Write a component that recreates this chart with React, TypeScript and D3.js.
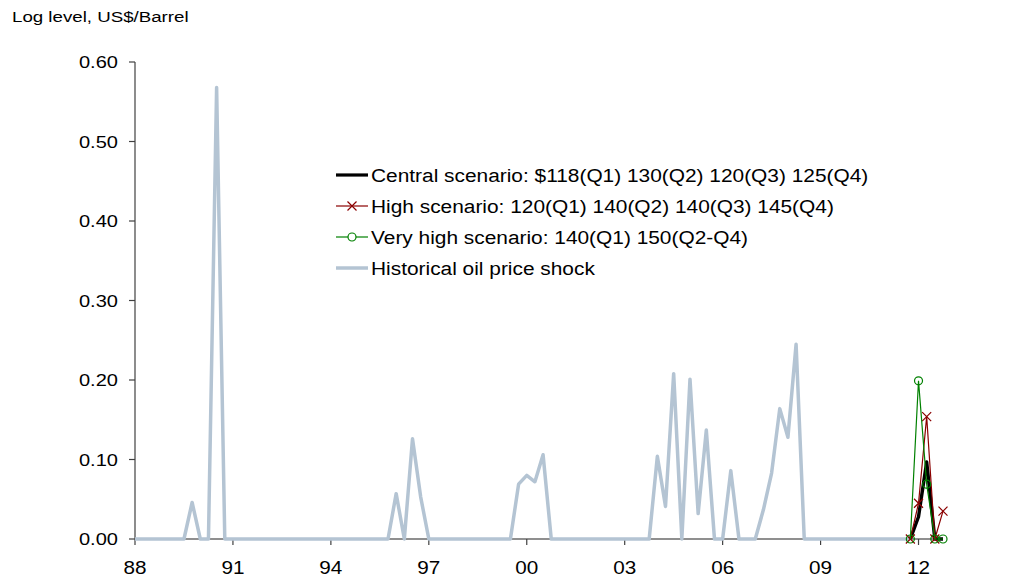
import React from "react";
import * as d3 from "d3";

// Quarterly oil price shock (net increase, log level), 1988Q1 – 2011Q4
const historical: number[] = [
  0, 0, 0, 0, // 1988
  0, 0, 0, 0.046, // 1989
  0, 0, 0.568, 0, // 1990
  0, 0, 0, 0, // 1991
  0, 0, 0, 0, // 1992
  0, 0, 0, 0, // 1993
  0, 0, 0, 0, // 1994
  0, 0, 0, 0, // 1995
  0.057, 0, 0.126, 0.053, // 1996
  0, 0, 0, 0, // 1997
  0, 0, 0, 0, // 1998
  0, 0, 0, 0.069, // 1999
  0.08, 0.072, 0.106, 0, // 2000
  0, 0, 0, 0, // 2001
  0, 0, 0, 0, // 2002
  0, 0, 0, 0, // 2003
  0.104, 0.041, 0.208, 0, // 2004
  0.201, 0.032, 0.137, 0, // 2005
  0, 0.086, 0, 0, // 2006
  0, 0.037, 0.083, 0.164, // 2007
  0.128, 0.245, 0, 0, // 2008
  0, 0, 0, 0, // 2009
  0, 0, 0, 0, // 2010
  0, 0, 0, 0, // 2011
];

// Scenarios: 2011Q4, 2012Q1..Q4
const scenarioStart = 95;
const central: number[] = [0, 0.028, 0.097, 0, 0];
const high: number[] = [0, 0.045, 0.154, 0, 0.035];
const veryHigh: number[] = [0, 0.199, 0.069, 0, 0];

const xTickLabels = ["88", "91", "94", "97", "00", "03", "06", "09", "12"];
const xTickIndex = [0, 12, 24, 36, 48, 60, 72, 84, 96];
const yTicks = [0, 0.1, 0.2, 0.3, 0.4, 0.5, 0.6];

const legendLabels = [
  "Central scenario: $118(Q1) 130(Q2) 120(Q3) 125(Q4)",
  "High scenario: 120(Q1) 140(Q2) 140(Q3) 145(Q4)",
  "Very high scenario: 140(Q1) 150(Q2-Q4)",
  "Historical oil price shock",
];

const GRAY = "#b4c4d3";
const RED = "#8b0000";
const GREEN = "#008000";
const FONT = "'Liberation Sans', Arial, Helvetica, sans-serif";

function T(props: {
  x: number;
  y: number;
  size: number;
  sx?: number;
  anchor?: string;
  children: React.ReactNode;
}) {
  const { x, y, size, sx = 1, anchor = "start", children } = props;
  return (
    <text
      transform={`translate(${x},${y}) scale(${sx},1)`}
      fontSize={size}
      fontFamily={FONT}
      textAnchor={anchor as any}
      fill="#000"
    >
      {children}
    </text>
  );
}

export default function App() {
  const x = d3.scaleLinear().domain([0, 99]).range([135, 943]);
  const y = d3.scaleLinear().domain([0, 0.6]).range([539, 62]);

  const line = d3
    .line<[number, number]>()
    .x((d) => x(d[0]))
    .y((d) => y(d[1]));

  const histPts: [number, number][] = historical.map((v, i) => [i, v]);
  const toPts = (arr: number[]): [number, number][] =>
    arr.map((v, i) => [scenarioStart + i, v]);

  const legendY = [175, 206, 237, 268];

  return (
    <svg
      width={1031}
      height={586}
      style={{ position: "absolute", left: 0, top: 0, background: "#fff" }}
    >
      <rect x={0} y={0} width={1031} height={586} fill="#fff" />
      <T x={12} y={22} size={14.5} sx={1.29}>
        Log level, US$/Barrel
      </T>

      {/* Y axis */}
      <line x1={135} x2={135} y1={y(0.6)} y2={y(0)} stroke="#404040" strokeWidth={1.2} />
      {yTicks.map((t) => (
        <g key={t}>
          <line x1={129} x2={135} y1={y(t)} y2={y(t)} stroke="#404040" strokeWidth={1.2} />
          <T x={118} y={y(t) + 6} size={17} sx={1.18} anchor="end">
            {t.toFixed(2)}
          </T>
        </g>
      ))}

      {/* X axis */}
      <line x1={x(0)} x2={x(99)} y1={y(0)} y2={y(0)} stroke="#202020" strokeWidth={1.2} />
      {xTickIndex.map((t, i) => (
        <g key={t}>
          <line x1={x(t)} x2={x(t)} y1={y(0)} y2={y(0) + 6} stroke="#404040" strokeWidth={1.2} />
          <T x={x(t)} y={574} size={18} sx={1.15} anchor="middle">
            {xTickLabels[i]}
          </T>
        </g>
      ))}

      {/* Historical */}
      <path d={line(histPts) || ""} fill="none" stroke={GRAY} strokeWidth={3.5} strokeLinejoin="round" />

      {/* Central */}
      <path d={line(toPts(central)) || ""} fill="none" stroke="#000" strokeWidth={3.4} strokeLinejoin="round" />

      {/* High */}
      <path d={line(toPts(high)) || ""} fill="none" stroke={RED} strokeWidth={1.2} />
      {toPts(high).map((p, i) => (
        <path
          key={i}
          d={`M${x(p[0]) - 4.5},${y(p[1]) - 4.5}L${x(p[0]) + 4.5},${y(p[1]) + 4.5}M${x(p[0]) - 4.5},${y(p[1]) + 4.5}L${x(p[0]) + 4.5},${y(p[1]) - 4.5}`}
          stroke={RED}
          strokeWidth={1.2}
          fill="none"
        />
      ))}

      {/* Very high */}
      <path d={line(toPts(veryHigh)) || ""} fill="none" stroke={GREEN} strokeWidth={1.2} />
      {toPts(veryHigh).map((p, i) => (
        <circle key={i} cx={x(p[0])} cy={y(p[1])} r={4} fill="none" stroke={GREEN} strokeWidth={1.2} />
      ))}

      {/* Legend */}
      <line x1={336} x2={368} y1={legendY[0]} y2={legendY[0]} stroke="#000" strokeWidth={3.2} />
      <line x1={336} x2={368} y1={legendY[1]} y2={legendY[1]} stroke={RED} strokeWidth={1.2} />
      <path
        d={`M${352 - 4.5},${legendY[1] - 4.5}L${352 + 4.5},${legendY[1] + 4.5}M${352 - 4.5},${legendY[1] + 4.5}L${352 + 4.5},${legendY[1] - 4.5}`}
        stroke={RED}
        strokeWidth={1.2}
      />
      <line x1={336} x2={368} y1={legendY[2]} y2={legendY[2]} stroke={GREEN} strokeWidth={1.2} />
      <circle cx={352} cy={legendY[2]} r={4} fill="#fff" stroke={GREEN} strokeWidth={1.2} />
      <line x1={336} x2={368} y1={legendY[3]} y2={legendY[3]} stroke={GRAY} strokeWidth={3.5} />
      {legendLabels.map((s, i) => (
        <T key={i} x={371} y={legendY[i] + 6.5} size={18} sx={1.16}>
          {s}
        </T>
      ))}
    </svg>
  );
}
